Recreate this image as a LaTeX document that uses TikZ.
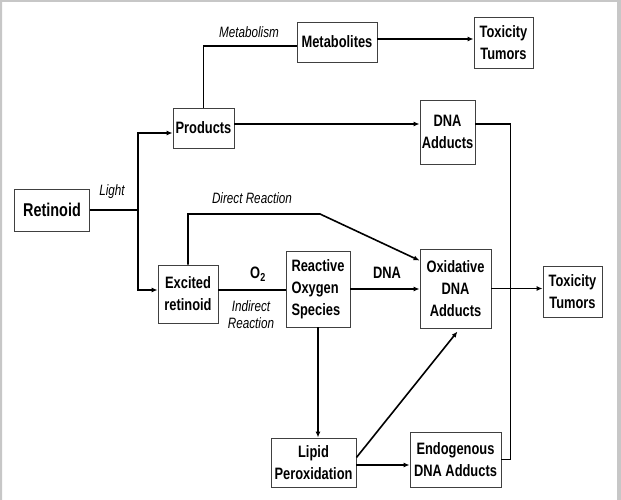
\documentclass[tikz,border=0pt]{standalone}
\usepackage{fontspec}
\setmainfont{Liberation Sans}[FakeStretch=0.78]
\usetikzlibrary{positioning,arrows.meta}

\begin{document}
\begin{tikzpicture}[x=1pt, y=-1pt, box/.style={draw=black!75, line width=0.9pt, align=center, inner sep=1pt, font=\bfseries\fontsize{16.5}{22}\selectfont}, tag/.style={font=\itshape\fontsize{15}{17}\selectfont, align=center}, rel/.style={-{Latex[length=6pt,width=5pt]}, line width=1.6pt}, link/.style={line width=1.6pt}]
\useasboundingbox (0,0) rectangle (621,500);
\fill[black!22] (0,0) rectangle (621,2) (0,0) rectangle (2,500) (617,0) rectangle (621,500);
\node[box, font=\bfseries\fontsize{18.5}{22}\selectfont, minimum width=75pt, minimum height=42pt] (retinoid) at (52,210) {Retinoid};
\node[box, minimum width=61pt, minimum height=40pt] (products) at (203.5,128) {Products};
\node[box, minimum width=80pt, minimum height=40pt] (metabolites) at (337,42) {Metabolites};
\node[box, minimum width=59pt, minimum height=51pt] (toxtop) at (503.5,42.5) {Toxicity\\Tumors};
\node[box, minimum width=55pt, minimum height=64pt] (dnaadd) at (447.5,132) {DNA\\Adducts};
\node[box, minimum width=60pt, minimum height=58pt] (excited) at (188,294) {Excited\\retinoid};
\node[box, align=left, minimum width=64pt, minimum height=76pt] (ros) at (318,289) {Reactive\\Oxygen\\Species};
\node[box, minimum width=71pt, minimum height=79pt] (oxid) at (455.5,288.5) {Oxidative\\DNA\\Adducts};
\node[box, minimum width=59pt, minimum height=51pt] (toxlow) at (572.5,291.5) {Toxicity\\Tumors};
\node[box, minimum width=85pt, minimum height=49pt] (lipid) at (313.5,462.5) {Lipid\\Peroxidation};
\node[box, minimum width=91pt, minimum height=55pt] (endo) at (455.5,459.5) {Endogenous\\DNA Adducts};
\node[tag] (light) at (112,192) {Light};
\node[tag] (metab) at (249,32) {Metabolism};
\node[tag] (direct) at (252,198) {Direct Reaction};
\node[tag] (indirect) at (251,315) {Indirect\\Reaction};
\node[font=\bfseries\fontsize{16.5}{20}\selectfont] (oxygen) at (258,274) {O\textsubscript{2}};
\node[font=\bfseries\fontsize{16.5}{20}\selectfont] (dna) at (387,273) {DNA};
\coordinate (split) at (138,210);
\coordinate (bend) at (320,214);
\draw[link] (retinoid.east) -- (split);
\draw[rel] (split) |- ([yshift=-5pt]products.west);
\draw[rel] (split) |- ([yshift=4pt]excited.west);
\draw[link] (products.north) |- ([yshift=-4pt]metabolites.west);
\draw[rel] ([yshift=3pt]metabolites.east) -- ([yshift=3pt]metabolites.east -| toxtop.west);
\draw[rel] ([yshift=4pt]products.east) coordinate (pe) -- (pe -| dnaadd.west);
\draw[link] (pe -| dnaadd.east) -- ++(35,0) |- (endo.east);
\draw[link] ([yshift=4pt]excited.east) -- ([yshift=4pt]excited.east -| ros.west);
\draw[rel] (ros.east) -- (ros.east -| oxid.west);
\draw[rel] (oxid.east) -- (oxid.east -| toxlow.west);
\draw[rel] (excited.north) |- (bend) -- ([yshift=-12pt]oxid.north west);
\draw[rel] (ros.south) -- (ros.south |- lipid.north);
\draw[rel] ([yshift=5pt]lipid.east) -- ([xshift=2pt,yshift=-3pt]oxid.south);
\draw[rel] ([yshift=-2.5pt]lipid.east) -- ([yshift=-2.5pt]lipid.east -| endo.west);
\end{tikzpicture}
\end{document}
